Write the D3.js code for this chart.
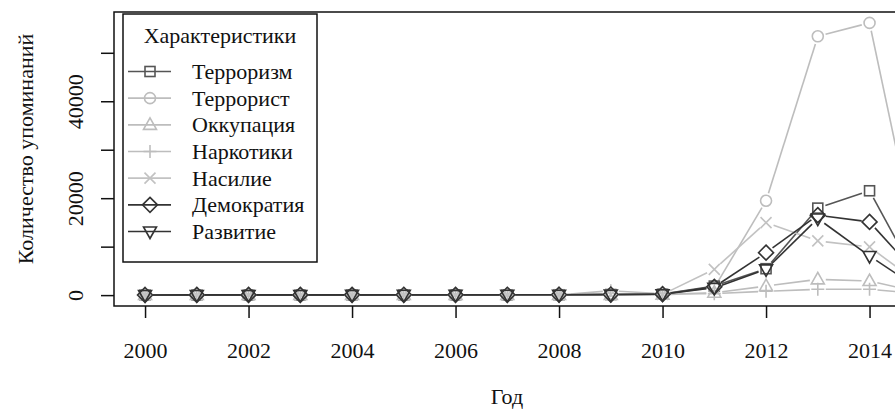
<!DOCTYPE html>
<html lang="ru">
<head>
   <meta charset="UTF-8">
   <title>Характеристики</title>
   <style>
      html, body {
         margin: 0;
         background: #fff;
         overflow: hidden;
      }

      text {
         font-family: 'Liberation Serif', 'DejaVu Serif', serif;
         font-size: 22px;
         fill: #111;
      }
   </style>
   <script src="https://cdn.jsdelivr.net/npm/d3@7/dist/d3.min.js"></script>
</head>
<body>
   <div class="d3"></div>
   <script>
      // data
      const years = [2000, 2001, 2002, 2003, 2004, 2005, 2006, 2007, 2008, 2009, 2010, 2011, 2012, 2013, 2014, 2015]

      const terrorism   = [20, 30, 25, 30, 40, 60, 40, 50, 70, 120, 200, 1860, 5450, 17950, 21530, 1900]
      const terrorist   = [30, 40, 30, 40, 50, 80, 60, 70, 90, 150, 250, 1500, 19460, 53400, 56170, 5800]
      const occupation  = [10, 10, 10, 10, 10, 20, 15, 20, 20, 40, 60, 500, 1860, 3250, 2900, 500]
      const drugs       = [20, 20, 20, 20, 20, 30, 20, 30, 30, 900, 300, 300, 800, 1200, 1200, 300]
      const violence    = [10, 20, 20, 20, 30, 40, 30, 40, 50, 100, 150, 5320, 14970, 11180, 9940, 2000]
      const democracy   = [30, 40, 40, 40, 50, 70, 60, 70, 80, 120, 200, 1700, 8760, 16500, 15100, 3400]
      const development = [20, 30, 30, 30, 40, 60, 50, 60, 70, 100, 180, 1500, 5320, 15800, 8070, 1000]

      const seriesNames = ['Терроризм', 'Террорист', 'Оккупация', 'Наркотики', 'Насилие', 'Демократия', 'Развитие']
      const seriesValues = [terrorism, terrorist, occupation, drugs, violence, democracy, development]
      const seriesColors = ['#555555', '#bdbdbd', '#bdbdbd', '#bdbdbd', '#c2c2c2', '#333333', '#333333']
      const seriesShapes = ['square', 'circle', 'triUp', 'plus', 'cross', 'diamond', 'triDown']

      const xTicks = [2000, 2002, 2004, 2006, 2008, 2010, 2012, 2014]
      const yTicks = [0, 10000, 20000, 30000, 40000, 50000]
      const yLabeled = [0, 20000, 40000]

      // setup
      const svg = d3.select('.d3').append('svg')
         .attr('width', 895)
         .attr('height', 412)

      const box = { left: 114, top: 12, bottom: 306 }
      const yearW = 51.75

      // R style 4% padding around the data range
      const xMin = d3.min(years), xMax = d3.max(years)
      const xPad = (xMax - xMin) * 0.04
      const xScale = d3.scaleLinear()
         .domain([xMin - xPad, xMax + xPad])
         .range([box.left, box.left + (xMax - xMin + 2 * xPad) * yearW])
      box.right = xScale.range()[1]

      const yMax = d3.max(seriesValues.flat())
      const yPad = yMax * 0.04
      const yScale = d3.scaleLinear()
         .domain([-yPad, yMax + yPad])
         .range([box.bottom, box.top])

      // markers
      function marker(g, shape, color) {
         const s = 5.5
         g.attr('fill', 'none').attr('stroke', color).attr('stroke-width', 1.6)
         if (shape === 'square') g.append('rect').attr('x', -s + 0.5).attr('y', -s + 0.5).attr('width', 2 * s - 1).attr('height', 2 * s - 1)
         if (shape === 'circle') g.append('circle').attr('r', s)
         if (shape === 'triUp') g.append('path').attr('d', `M0,${-s - 1.5}L${s + 1},${s - 1}L${-s - 1},${s - 1}Z`)
         if (shape === 'triDown') g.append('path').attr('d', `M0,${s + 1.5}L${s + 1},${-s + 1}L${-s - 1},${-s + 1}Z`)
         if (shape === 'plus') g.append('path').attr('d', `M${-s - 1},0H${s + 1}M0,${-s - 1}V${s + 1}`)
         if (shape === 'cross') g.append('path').attr('d', `M${-s},${-s}L${s},${s}M${-s},${s}L${s},${-s}`)
         if (shape === 'diamond') g.append('path').attr('d', `M0,${-s - 2}L${s + 2},0L0,${s + 2}L${-s - 2},0Z`)
      }

      // clip for the plot region
      svg.append('clipPath').attr('id', 'plotClip')
         .append('rect')
         .attr('x', box.left).attr('y', box.top)
         .attr('width', box.right - box.left).attr('height', box.bottom - box.top)

      const plot = svg.append('g').attr('clip-path', 'url(#plotClip)')

      // lines with gaps around points (type = "b")
      const gap = 8
      seriesValues.forEach((vals, i) => {
         const pts = years.map((yr, j) => [xScale(yr), yScale(vals[j])])
         const segs = []
         for (let j = 0; j < pts.length - 1; j++) {
            const [x1, y1] = pts[j], [x2, y2] = pts[j + 1]
            const len = Math.hypot(x2 - x1, y2 - y1)
            if (len <= 2 * gap) continue
            const ux = (x2 - x1) / len, uy = (y2 - y1) / len
            segs.push([x1 + ux * gap, y1 + uy * gap, x2 - ux * gap, y2 - uy * gap])
         }
         plot.append('g').selectAll('line')
            .data(segs)
            .enter()
            .append('line')
            .attr('x1', d => d[0]).attr('y1', d => d[1])
            .attr('x2', d => d[2]).attr('y2', d => d[3])
            .attr('stroke', seriesColors[i])
            .attr('stroke-width', 1.6)
      })

      seriesValues.forEach((vals, i) => {
         plot.append('g').selectAll('g')
            .data(years)
            .enter()
            .append('g')
            .attr('transform', (yr, j) => `translate(${xScale(yr)}, ${yScale(vals[j])})`)
            .each(function () { marker(d3.select(this), seriesShapes[i], seriesColors[i]) })
      })

      // plot box
      svg.append('rect')
         .attr('x', box.left).attr('y', box.top)
         .attr('width', box.right - box.left).attr('height', box.bottom - box.top)
         .attr('fill', 'none')
         .attr('stroke', '#111')
         .attr('stroke-width', 1.5)

      // axes
      const xAxis = d3.axisBottom(xScale)
         .tickValues(xTicks)
         .tickFormat(d3.format('d'))
         .tickSize(12)
         .tickPadding(24)
      const xAxisGroup = svg.append('g')
         .attr('transform', `translate(0, ${box.bottom})`)
         .call(xAxis)
      xAxisGroup.select('.domain').remove()
      xAxisGroup.selectAll('line').attr('stroke', '#111').attr('stroke-width', 1.5)
      xAxisGroup.selectAll('text')
         .attr('font-family', null).attr('font-size', null)
         .attr('fill', '#111')

      const yAxis = d3.axisLeft(yScale)
         .tickValues(yTicks)
         .tickFormat(d => yLabeled.includes(d) ? d : '')
         .tickSize(13)
      const yAxisGroup = svg.append('g')
         .attr('transform', `translate(${box.left}, 0)`)
         .call(yAxis)
      yAxisGroup.select('.domain').remove()
      yAxisGroup.selectAll('line').attr('stroke', '#111').attr('stroke-width', 1.5)
      yAxisGroup.selectAll('text')
         .attr('font-family', null).attr('font-size', null)
         .attr('fill', '#111')
         .attr('x', null).attr('dy', null)
         .attr('text-anchor', 'middle')
         .attr('transform', 'translate(-31, 0) rotate(-90)')

      // axis titles
      svg.append('text')
         .attr('x', 507)
         .attr('y', 404)
         .attr('text-anchor', 'middle')
         .text('Год')

      svg.append('text')
         .attr('transform', 'translate(33, 149) rotate(-90)')
         .attr('text-anchor', 'middle')
         .text('Количество упоминаний')

      // legend
      const legend = svg.append('g')
      legend.append('rect')
         .attr('x', 123).attr('y', 14)
         .attr('width', 194).attr('height', 248)
         .attr('fill', '#fff')
         .attr('stroke', '#111')
         .attr('stroke-width', 1.5)
      legend.append('text')
         .attr('x', 220).attr('y', 43)
         .attr('text-anchor', 'middle')
         .text('Характеристики')

      const itemY = d3.scaleLinear().domain([0, 6]).range([71.5, 231.5])
      const items = legend.selectAll('.item')
         .data(seriesNames)
         .enter()
         .append('g')
         .attr('class', 'item')
         .attr('transform', (d, i) => `translate(0, ${itemY(i)})`)
      items.append('line')
         .attr('x1', 128).attr('x2', 171)
         .attr('stroke', (d, i) => seriesColors[i])
         .attr('stroke-width', 1.6)
      items.append('g')
         .attr('transform', 'translate(150, 0)')
         .each(function (d, i) { marker(d3.select(this), seriesShapes[i], seriesColors[i]) })
      items.append('text')
         .attr('x', 192)
         .attr('y', 7.5)
         .text(d => d)
   </script>
</body>
</html>
